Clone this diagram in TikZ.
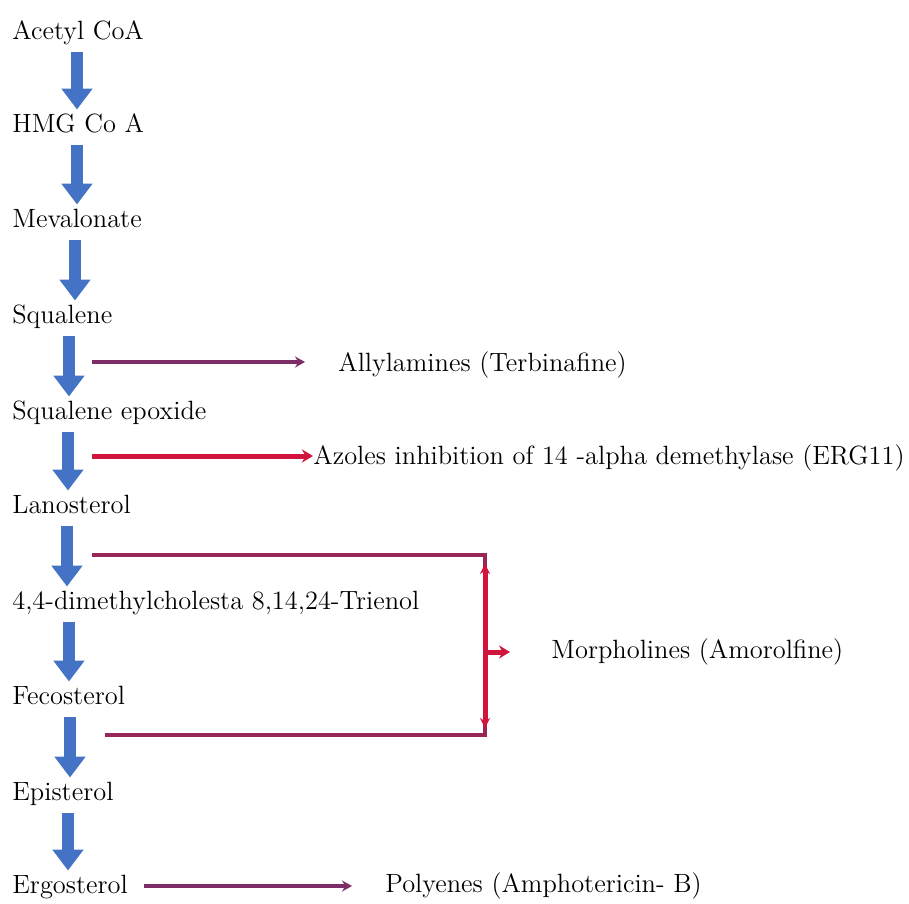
\documentclass[tikz,border=0pt]{standalone}
\usepackage{xcolor}
\usetikzlibrary{arrows.meta}
\definecolor{pathblue}{HTML}{4472C4}
\definecolor{drugline}{HTML}{7E2E66}
\definecolor{drugred}{HTML}{D0143C}
\tikzstyle{compound} = [anchor=west, inner sep=0pt, scale=1.03, text height=0.39cm, text depth=0.1cm, font=\fontsize{14.6}{18}\selectfont]
\tikzstyle{drug} = [anchor=west, inner sep=0pt, scale=1.03, font=\fontsize{14.6}{18}\selectfont]
\tikzstyle{blockarrow} = [draw=pathblue, line width=0.24cm, -{Triangle[width=0.6cm,length=0.42cm]}, pathblue, shorten <=0.15cm, shorten >=0.05cm]
\tikzstyle{thinarrow} = [draw=drugline, line width=0.07cm, -{Stealth[width=0.22cm,length=0.2cm]}]
\tikzstyle{redarrow} = [draw=drugred, line width=0.1cm, -{Stealth[width=0.26cm,length=0.22cm]}]
\tikzstyle{bracket} = [draw=drugline!70!drugred, line width=0.08cm]

\begin{document}
\begin{tikzpicture}[x=0.02cm, y=-0.02cm]
    \useasboundingbox (0,0) rectangle (909,903);

    \node (acetyl) [compound] at (12,32) {Acetyl CoA};
    \node (hmg) [compound] at (12,125) {HMG Co A};
    \node (meva) [compound] at (12,220) {Mevalonate};
    \node (squal) [compound] at (12,316) {Squalene};
    \node (epox) [compound] at (12,412) {Squalene epoxide};
    \node (lano) [compound] at (12,506) {Lanosterol};
    \node (dimeth) [compound] at (12,602) {4,4-dimethylcholesta 8,14,24-Trienol};
    \node (feco) [compound] at (12,697) {Fecosterol};
    \node (epis) [compound] at (12,793) {Episterol};
    \node (ergo) [compound] at (12,886) {Ergosterol};

    \node (allyl) [drug] at (338,365) {Allylamines (Terbinafine)};
    \node (azole) [drug] at (313,458) {Azoles inhibition of 14 -alpha demethylase (ERG11)};
    \node (morph) [drug] at (551,652) {Morpholines (Amorolfine)};
    \node (poly) [drug] at (385,886) {Polyenes (Amphotericin- B)};

    % pathway
    \draw [blockarrow] ([xshift=1.3cm]acetyl.south west) -- ([xshift=1.3cm]hmg.north west);
    \draw [blockarrow] ([xshift=1.3cm]hmg.south west) -- ([xshift=1.3cm]meva.north west);
    \draw [blockarrow] ([xshift=1.26cm]meva.south west) -- ([xshift=1.26cm]squal.north west);
    \draw [blockarrow] ([xshift=1.14cm]squal.south west) -- ([xshift=1.14cm]epox.north west);
    \draw [blockarrow] ([xshift=1.12cm]epox.south west) -- ([xshift=1.12cm]lano.north west);
    \draw [blockarrow] ([xshift=1.1cm]lano.south west) -- ([xshift=1.1cm]dimeth.north west);
    \draw [blockarrow] ([xshift=1.14cm]dimeth.south west) -- ([xshift=1.14cm]feco.north west);
    \draw [blockarrow] ([xshift=1.16cm]feco.south west) -- ([xshift=1.16cm]epis.north west);
    \draw [blockarrow] ([xshift=1.12cm]epis.south west) -- ([xshift=1.12cm]ergo.north west);

    % inhibitors
    \coordinate (allylstart) at (92,362);
    \coordinate (azolestart) at (92,456);
    \draw [thinarrow, shorten >=0.66cm] (allylstart) -- (allylstart -| allyl.west);
    \draw [redarrow] (azolestart) -- (azolestart -| azole.west);

    \coordinate (mtopleft) at (92,555);
    \coordinate (mtopright) at (485,555);
    \coordinate (mbotleft) at (105,735);
    \coordinate (mbotright) at (485,735);
    \coordinate (mmid) at (485,652);
    \draw [bracket] (mtopleft) -- (mtopright) -- (mbotright) -- (mbotleft);
    \draw [draw=drugred, line width=0.1cm, {Stealth[width=0.2cm,length=0.2cm]}-{Stealth[width=0.2cm,length=0.2cm]}, shorten <=0.18cm, shorten >=0.14cm] (mtopright) -- (mbotright);
    \draw [redarrow, shorten >=0.82cm] (mmid) -- (mmid -| morph.west);

    \draw [thinarrow, shorten <=0.32cm, shorten >=0.66cm] (ergo.east) -- (poly.west);
\end{tikzpicture}
\end{document}
